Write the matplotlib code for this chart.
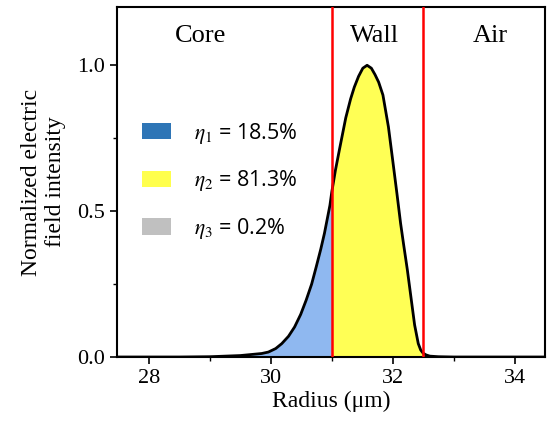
import numpy as np
import matplotlib
matplotlib.use("Agg")
import matplotlib.pyplot as plt
from matplotlib.patches import Patch
from matplotlib.ticker import MultipleLocator

# ---------------- DATA ----------------
# radial field profile (normalized), read point by point
radius = [27.475, 28.5, 29.0, 29.5, 29.85, 29.96, 30.08, 30.18, 30.29, 30.39,
          30.49, 30.58, 30.67, 30.745, 30.82, 30.88, 30.97, 31.00, 31.06, 31.13,
          31.23, 31.31, 31.37, 31.44, 31.51, 31.58, 31.65, 31.71, 31.77, 31.84,
          31.93, 32.00, 32.07, 32.13, 32.18, 32.24, 32.30, 32.36, 32.42, 32.46,
          32.50, 32.55, 32.61, 32.75, 33.0, 34.5]
intensity = [0.0, 0.0, 0.001, 0.005, 0.012, 0.017, 0.029, 0.046, 0.071, 0.103,
             0.146, 0.195, 0.25, 0.309, 0.37, 0.424, 0.52, 0.565, 0.64, 0.715,
             0.82, 0.885, 0.925, 0.962, 0.99, 1.0, 0.99, 0.968, 0.942, 0.898,
             0.789, 0.675, 0.56, 0.458, 0.385, 0.30, 0.205, 0.11, 0.046, 0.024,
             0.013, 0.007, 0.003, 0.001, 0.0, 0.0]

core_edge = 31.0
wall_edge = 32.5

regions = ["Core", "Wall", "Air"]
region_x = [28.85, 31.7, 33.6]

eta_labels = [r"$\eta_1$ = 18.5%", r"$\eta_2$ = 81.3%", r"$\eta_3$ = 0.2%"]
eta_colors = ["#2e75b6", "#ffff4d", "#c0c0c0"]

# ---------------- PLOT ----------------
plt.rcParams["font.family"] = ["Liberation Serif", "DejaVu Serif"]
plt.rcParams["mathtext.fontset"] = "stix"

x = np.array(radius)
y = np.array(intensity)

fig = plt.figure(figsize=(5.49, 4.23), dpi=100)
ax = fig.add_axes([0.2131, 0.156, 0.7796, 0.8276])

# fill under the curve by region: core, wall, air
ax.fill_between(x, y, where=x <= core_edge, color="#8fb8f0", lw=0)
ax.fill_between(x, y, where=(x >= core_edge) & (x <= wall_edge), color="#ffff55", lw=0)
ax.fill_between(x, y, where=x >= wall_edge, color="#c0c0c0", lw=0)
ax.plot(x, y, color="black", lw=2, zorder=3)

ax.axvline(core_edge, color="#ff0000", lw=1.8, zorder=4)
ax.axvline(wall_edge, color="#ff0000", lw=1.8, zorder=4)

for name, xr in zip(regions, region_x):
    ax.text(xr, 1.10, name, ha="center", va="center", fontsize=19)

ax.set_xlim(27.475, 34.5)
ax.set_ylim(0, 1.2)
ax.xaxis.set_major_locator(MultipleLocator(2))
ax.xaxis.set_minor_locator(MultipleLocator(1))
ax.yaxis.set_major_locator(MultipleLocator(0.5))
ax.yaxis.set_minor_locator(MultipleLocator(0.25))
ax.yaxis.set_major_formatter(plt.FormatStrFormatter("%.1f"))
ax.tick_params(which="major", length=5, width=1.2, labelsize=16)
ax.tick_params(which="minor", length=3, width=1.0)
for s in ax.spines.values():
    s.set_linewidth(1.5)

ax.set_xlabel("Radius (μm)", fontsize=17, labelpad=2)
ax.set_ylabel("Normalized electric\nfield intensity", fontsize=17, labelpad=8)

handles = [Patch(facecolor=c, edgecolor="none") for c in eta_colors]
leg = ax.legend(handles, eta_labels, loc="upper left", bbox_to_anchor=(0.012, 0.73),
                frameon=False, handlelength=1.35, handleheight=0.78, handletextpad=1.07,
                labelspacing=1.05, prop={"family": ["Open Sans", "DejaVu Sans"], "size": 15.5})

plt.savefig("out.png", dpi=100)
plt.close()
